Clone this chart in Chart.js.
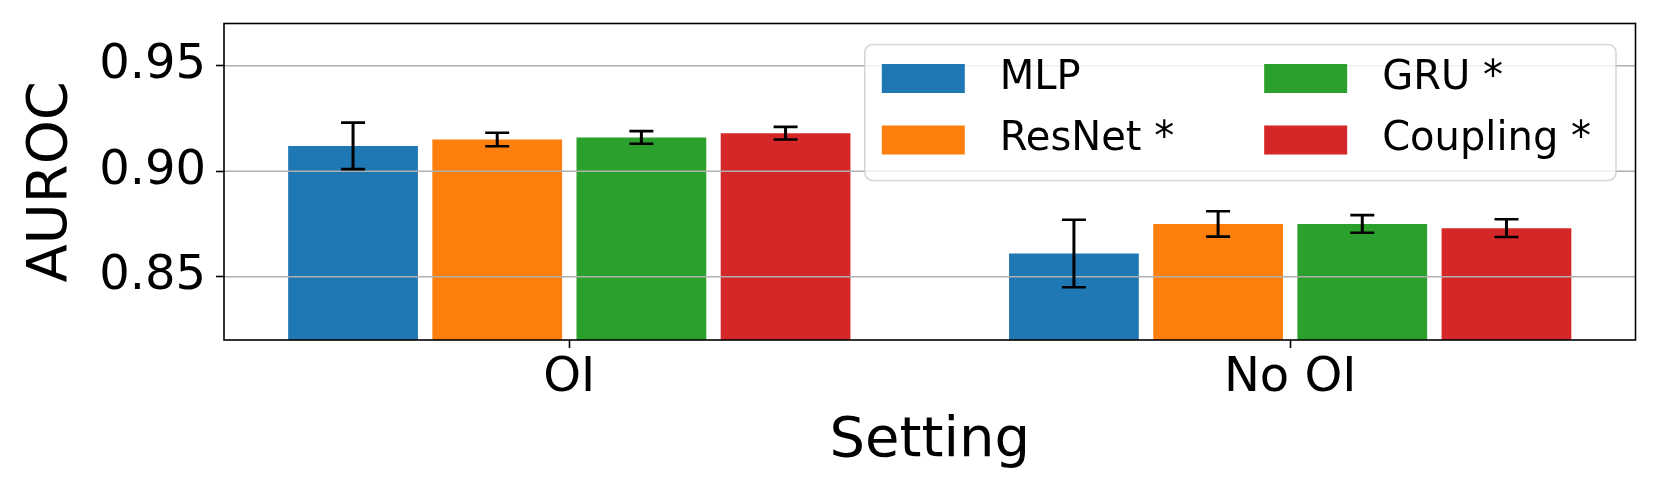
<!DOCTYPE html>
<html><head><meta charset="utf-8">
<script src="https://cdn.jsdelivr.net/npm/chart.js@4.4.0/dist/chart.umd.min.js"></script>
<style>html,body{margin:0;padding:0;background:#fff;} #wrap{width:1661px;height:498px;}</style>
</head><body>
<div id="wrap"><canvas id="c" width="1661" height="498"></canvas></div>
<script>
const categories = ['OI', 'No OI'];
const seriesNames = ['MLP', 'ResNet *', 'GRU *', 'Coupling *'];
const seriesColors = ['#1f77b4', '#ff7f0e', '#2ca02c', '#d62728'];
const mlp = [0.912, 0.861];
const mlpErr = [0.011, 0.016];
const resnet = [0.915, 0.875];
const resnetErr = [0.0032, 0.006];
const gru = [0.916, 0.875];
const gruErr = [0.003, 0.0042];
const coupling = [0.918, 0.873];
const couplingErr = [0.003, 0.0042];
const yTicks = [0.85, 0.90, 0.95];
const yMin = 0.82, yMax = 0.97;
const xMin = -0.479, xMax = 1.479;

const FONT = '"DejaVu Sans", sans-serif';
Chart.defaults.font.family = FONT;
Chart.defaults.color = '#000';

const values = [mlp, resnet, gru, coupling];
const errs = [mlpErr, resnetErr, gruErr, couplingErr];

const datasets = seriesNames.map((name, k) => ({
  label: name,
  data: values[k].map((v, i) => ({ x: i, y: v })),
  errors: errs[k],
  backgroundColor: seriesColors[k],
  borderWidth: 0
}));

const overlay = {
  id: 'overlay',
  afterDatasetsDraw(chart) {
    const { ctx, chartArea: a, scales: { y } } = chart;
    ctx.save();
    // grid lines above bars (as in reference)
    ctx.strokeStyle = '#b0b0b0';
    ctx.lineWidth = 1.6;
    y.ticks.forEach(t => {
      const py = y.getPixelForValue(t.value);
      ctx.beginPath(); ctx.moveTo(a.left, py); ctx.lineTo(a.right, py); ctx.stroke();
    });
    // error bars
    ctx.strokeStyle = '#000';
    chart.data.datasets.forEach((ds, k) => {
      const meta = chart.getDatasetMeta(k);
      meta.data.forEach((bar, i) => {
        const v = ds.data[i].y, e = ds.errors[i];
        const pt = y.getPixelForValue(v + e), pb = y.getPixelForValue(v - e);
        ctx.lineWidth = 3;
        ctx.beginPath(); ctx.moveTo(bar.x, pt); ctx.lineTo(bar.x, pb); ctx.stroke();
        ctx.lineWidth = 2.6;
        ctx.beginPath();
        ctx.moveTo(bar.x - 12, pt); ctx.lineTo(bar.x + 12, pt);
        ctx.moveTo(bar.x - 12, pb); ctx.lineTo(bar.x + 12, pb);
        ctx.stroke();
      });
    });
    // frame
    ctx.strokeStyle = '#000';
    ctx.lineWidth = 1.6;
    ctx.strokeRect(a.left, a.top, a.right - a.left, a.bottom - a.top);
    // legend (2 columns, column-major)
    const fs = 40;
    ctx.font = fs + 'px ' + FONT;
    const items = chart.data.datasets.map(d => ({ label: d.label, color: d.backgroundColor }));
    const nrows = 2, ncols = Math.ceil(items.length / nrows);
    const sw = 83, sh = 29, gap = 35, colSp = 90, padL = 17, padR = 25, padT = 19.5, rowPitch = 61.5, H = 136;
    const colW = [];
    for (let c = 0; c < ncols; c++) {
      let m = 0;
      for (let r = 0; r < nrows; r++) {
        const it = items[c * nrows + r];
        if (it) m = Math.max(m, ctx.measureText(it.label).width);
      }
      colW.push(m);
    }
    let W = padL + padR + colSp * (ncols - 1);
    colW.forEach(w => W += sw + gap + w);
    const bx = a.right - 19.5 - W, by = a.top + 21;
    ctx.beginPath();
    ctx.roundRect(bx, by, W, H, 8);
    ctx.fillStyle = 'rgba(255,255,255,0.8)';
    ctx.fill();
    ctx.strokeStyle = 'rgba(204,204,204,0.8)';
    ctx.lineWidth = 1.6;
    ctx.stroke();
    let cx = bx + padL;
    for (let c = 0; c < ncols; c++) {
      for (let r = 0; r < nrows; r++) {
        const it = items[c * nrows + r];
        if (!it) continue;
        const sy = by + padT + r * rowPitch;
        ctx.fillStyle = it.color;
        ctx.fillRect(cx, sy, sw, sh);
        ctx.fillStyle = '#000';
        ctx.textAlign = 'left';
        ctx.textBaseline = 'middle';
        ctx.fillText(it.label, cx + sw + gap, sy + sh / 2);
      }
      cx += sw + gap + colW[c] + colSp;
    }
    ctx.restore();
  }
};

new Chart(document.getElementById('c'), {
  type: 'bar',
  data: { datasets },
  options: {
    responsive: false,
    animation: false,
    devicePixelRatio: 1,
    layout: { padding: { top: 23.5, right: 25.5, left: 0, bottom: 0 } },
    categoryPercentage: 0.8,
    barPercentage: 0.9,
    plugins: { legend: { display: false }, tooltip: { enabled: false } },
    scales: {
      x: {
        type: 'linear', min: xMin, max: xMax, offset: false,
        afterBuildTicks: s => { s.ticks = categories.map((_, i) => ({ value: i })); },
        afterFit: s => { s.height = 158; s.paddingLeft = 0; s.paddingRight = 0; },
        ticks: { callback: v => categories[v] ?? '', font: { size: 48 }, color: '#000', padding: 2, maxRotation: 0, autoSkip: false },
        grid: { display: true, drawOnChartArea: false, drawTicks: true, tickLength: 8, tickColor: '#000', tickWidth: 1.6, offset: false },
        border: { display: false },
        title: { display: true, text: 'Setting', font: { size: 56 }, color: '#000', padding: { top: 0, bottom: 23 } }
      },
      y: {
        type: 'linear', min: yMin, max: yMax, beginAtZero: false,
        afterBuildTicks: s => { s.ticks = yTicks.map(v => ({ value: v })); },
        afterFit: s => { s.width = 224; s.paddingTop = 0; s.paddingBottom = 0; },
        ticks: { callback: v => v.toFixed(2), font: { size: 48 }, color: '#000', padding: 10 },
        grid: { drawOnChartArea: false, drawTicks: true, tickLength: 8, tickColor: '#000', tickWidth: 1.6 },
        border: { display: false },
        title: { display: true, text: 'AUROC', font: { size: 56 }, color: '#000', padding: { top: 18, bottom: 0 } }
      }
    }
  },
  plugins: [overlay]
});
</script>
</body></html>
